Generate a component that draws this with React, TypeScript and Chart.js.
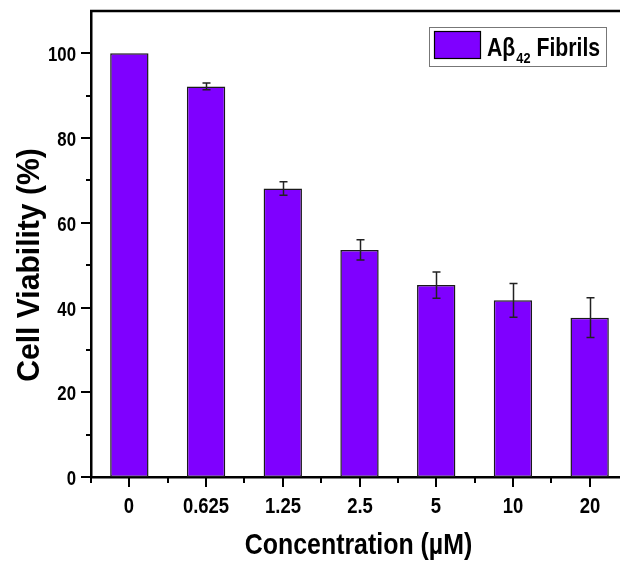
import React, { useEffect, useRef } from "react";
import { Chart, registerables } from "chart.js";

Chart.register(...registerables);

const categories = ["0", "0.625", "1.25", "2.5", "5", "10", "20"];
const viability = [100, 92.2, 68.1, 53.6, 45.3, 41.7, 37.6];
const errors = [0, 0.8, 1.6, 2.4, 3.1, 4.0, 4.7];
const yMin = 0;
const yMax = 110;
const yStep = 20;
const xTitle = "Concentration (µM)";
const yTitle = "Cell Viability (%)";
const legendMain = "Aβ";
const legendSub = "42";
const legendRest = " Fibrils";

const FONT = "'Liberation Sans', Arial, sans-serif";
const BAR = "#7f00ff";
const SX = 0.8;

function txt(ctx: any, s: string, x: number, y: number, size: number, align: string, sx = SX) {
  ctx.save();
  ctx.translate(x, y);
  ctx.scale(sx, 1);
  ctx.font = `bold ${size}px ${FONT}`;
  ctx.textAlign = align;
  ctx.textBaseline = "alphabetic";
  ctx.fillStyle = "#000";
  ctx.fillText(s, 0, 0);
  ctx.restore();
}

function measure(ctx: any, s: string, size: number, sx = SX) {
  ctx.save();
  ctx.font = `bold ${size}px ${FONT}`;
  const w = ctx.measureText(s).width * sx;
  ctx.restore();
  return w;
}

const decorPlugin = {
  id: "decor",
  afterDatasetsDraw(chart: any) {
    const ctx = chart.ctx;
    const ys = chart.scales.y;
    const meta = chart.getDatasetMeta(0);
    ctx.save();
    ctx.strokeStyle = "#222";
    ctx.lineWidth = 1.5;
    meta.data.forEach((el: any, i: number) => {
      const e = errors[i];
      if (!e) return;
      const x = Math.round(el.x) + 0.5;
      const t = ys.getPixelForValue(viability[i] + e);
      const b = ys.getPixelForValue(viability[i] - e);
      ctx.beginPath();
      ctx.moveTo(x, t);
      ctx.lineTo(x, b);
      ctx.moveTo(x - 4, t);
      ctx.lineTo(x + 4, t);
      ctx.moveTo(x - 4, b);
      ctx.lineTo(x + 4, b);
      ctx.stroke();
    });
    ctx.restore();
  },
  afterDraw(chart: any) {
    const ctx = chart.ctx;
    const area = chart.chartArea;
    const xs = chart.scales.x;
    const ys = chart.scales.y;
    ctx.save();
    ctx.strokeStyle = "#000";
    // top frame line
    ctx.lineWidth = 2.5;
    ctx.beginPath();
    ctx.moveTo(area.left - 1, area.top);
    ctx.lineTo(area.right + 1, area.top);
    ctx.stroke();
    // y ticks + labels
    ctx.lineWidth = 2;
    for (let v = yMin; v < yMax; v += yStep / 2) {
      const y = Math.round(ys.getPixelForValue(v));
      const major = v % yStep === 0;
      ctx.beginPath();
      ctx.moveTo(area.left, y);
      ctx.lineTo(area.left - (major ? 10 : 5), y);
      ctx.stroke();
      if (major) txt(ctx, String(v), area.left - 15, y + 7.5, 21, "right");
    }
    // x ticks + labels
    const n = categories.length;
    for (let i = 0; i < n; i++) {
      const x = Math.round(xs.getPixelForValue(i));
      ctx.beginPath();
      ctx.moveTo(x, area.bottom);
      ctx.lineTo(x, area.bottom + 10);
      ctx.stroke();
      const bx = i === 0 ? area.left : Math.round((xs.getPixelForValue(i - 1) + xs.getPixelForValue(i)) / 2);
      ctx.beginPath();
      ctx.moveTo(bx, area.bottom);
      ctx.lineTo(bx, area.bottom + 6);
      ctx.stroke();
      txt(ctx, categories[i], x, 513, 22, "center", 0.84);
    }
    // titles
    txt(ctx, xTitle, (area.left + area.right) / 2 - 1, 554, 30, "center", 0.83);
    ctx.save();
    ctx.translate(39, 265);
    ctx.rotate(-Math.PI / 2);
    txt(ctx, yTitle, 0, 0, 32, "center", 0.94);
    ctx.restore();
    // legend
    ctx.fillStyle = "#fff";
    ctx.fillRect(429.5, 27.5, 177, 39);
    ctx.strokeStyle = "#777";
    ctx.lineWidth = 1;
    ctx.strokeRect(429.5, 27.5, 177, 39);
    ctx.fillStyle = BAR;
    ctx.fillRect(434.5, 31.5, 46, 27);
    ctx.strokeStyle = "#000";
    ctx.lineWidth = 1.2;
    ctx.strokeRect(434.5, 31.5, 46, 27);
    let tx = 487;
    const ls = 25;
    const lx = 0.85;
    txt(ctx, legendMain, tx, 56, ls, "left", lx);
    tx += measure(ctx, legendMain, ls, lx) + 1;
    txt(ctx, legendSub, tx, 63, 15, "left", lx);
    tx += measure(ctx, legendSub, 15, lx);
    txt(ctx, legendRest, tx, 56, ls, "left", lx);
    ctx.restore();
  },
};

export default function App() {
  const ref = useRef<HTMLCanvasElement>(null);
  useEffect(() => {
    if (!ref.current) return;
    const chart = new Chart(ref.current, {
      type: "bar",
      data: {
        labels: categories,
        datasets: [
          {
            label: "Aβ42 Fibrils",
            data: viability,
            backgroundColor: BAR,
            borderColor: "#1a1a1a",
            borderWidth: 1.5,
            borderSkipped: false,
            barPercentage: 0.5,
            categoryPercentage: 1.0,
          },
        ],
      },
      options: {
        animation: false,
        responsive: false,
        maintainAspectRatio: false,
        layout: { padding: { top: 11, right: 12, left: 0, bottom: 0 } },
        plugins: { legend: { display: false }, tooltip: { enabled: false } },
        scales: {
          x: {
            type: "category",
            offset: true,
            grid: { display: false },
            border: { display: true, color: "#000", width: 2.5 },
            ticks: { display: false },
            afterFit: (s: any) => {
              s.height = 88;
              s.paddingLeft = 0;
              s.paddingRight = 0;
            },
          },
          y: {
            min: yMin,
            max: yMax,
            grid: { display: false },
            border: { display: true, color: "#000", width: 2.5 },
            ticks: { display: false, stepSize: yStep, includeBounds: false },
            afterFit: (s: any) => {
              s.width = 91;
              s.paddingTop = 0;
              s.paddingBottom = 0;
            },
          },
        },
      },
      plugins: [decorPlugin],
    } as any);
    return () => chart.destroy();
  }, []);
  return (
    <div style={{ position: "fixed", left: 0, top: 0, width: 640, height: 565, background: "#fff" }}>
      <canvas ref={ref} width={640} height={565} style={{ display: "block" }} />
    </div>
  );
}
